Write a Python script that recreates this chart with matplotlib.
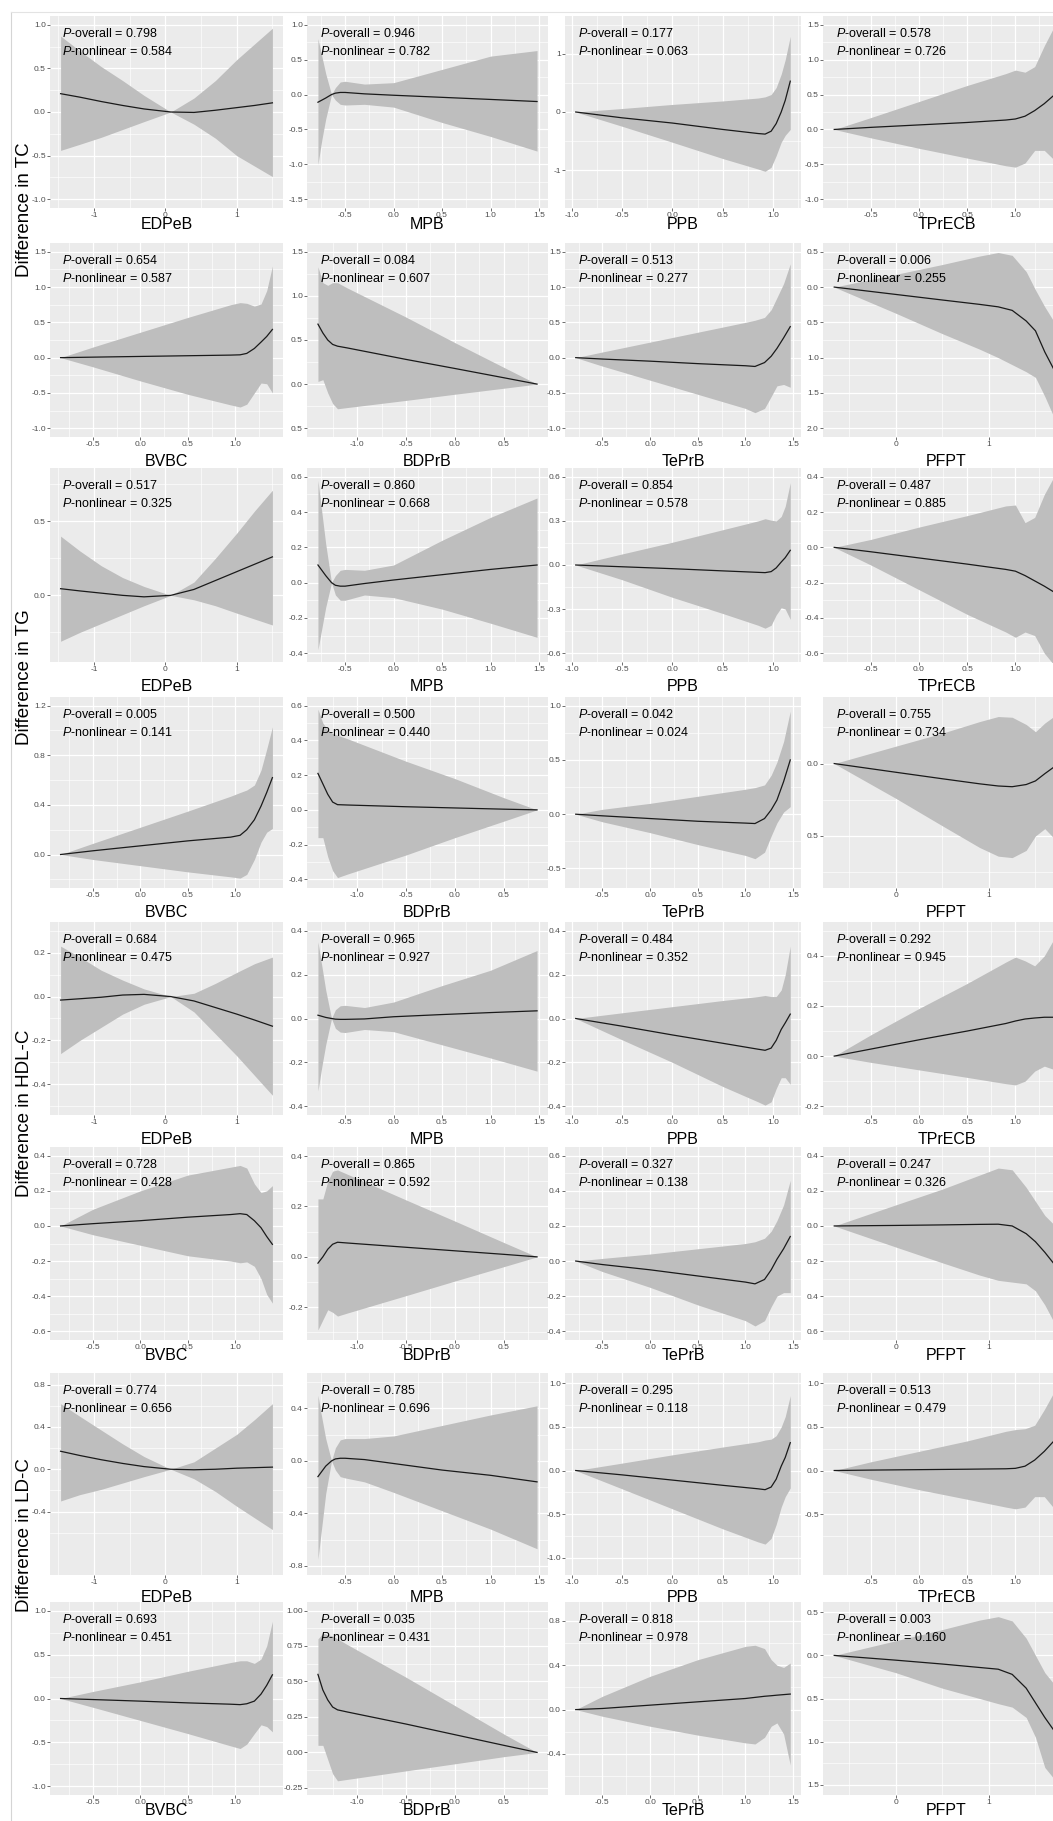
import numpy as np
import matplotlib.pyplot as plt
from matplotlib.lines import Line2D

plt.rcParams['font.family'] = ['Liberation Sans', 'DejaVu Sans']
plt.rcParams['mathtext.fontset'] = 'custom'
plt.rcParams['mathtext.it'] = 'Liberation Sans:italic'
plt.rcParams['mathtext.rm'] = 'Liberation Sans'

# exposure values (same for every lipid outcome)
edpeb_x = [-1.47, -1.2, -0.9, -0.6, -0.3, 0.075, 0.4, 0.7, 1.0, 1.25, 1.5]
mpb_x = [-0.78, -0.74, -0.70, -0.64, -0.60, -0.55, -0.5, -0.3, 0.0, 0.5, 1.0, 1.48]
ppb_x = [-0.96, -0.5, 0.0, 0.5, 0.85, 0.92, 0.98, 1.03, 1.08, 1.12, 1.17]
tprecb_x = [-0.88, -0.5, 0.0, 0.5, 0.9, 1.0, 1.1, 1.2, 1.3, 1.45]
bvbc_x = [-0.84, -0.5, 0.0, 0.5, 0.95, 1.05, 1.12, 1.2, 1.27, 1.33, 1.39]
bdprb_x = [-1.4, -1.35, -1.3, -1.25, -1.2, -1.1, -0.5, 0.0, 0.5, 0.84]
teprb_x = [-0.78, -0.5, 0.0, 0.5, 1.0, 1.1, 1.2, 1.27, 1.33, 1.4, 1.47]
pfpt_x = [-0.66, 0.0, 0.5, 0.9, 1.1, 1.25, 1.4, 1.5, 1.6, 1.75]

set_a = ["EDPeB", "MPB", "PPB", "TPrECB"]
set_b = ["BVBC", "BDPrB", "TePrB", "PFPT"]
x_vals = {"EDPeB": edpeb_x, "MPB": mpb_x, "PPB": ppb_x, "TPrECB": tprecb_x,
          "BVBC": bvbc_x, "BDPrB": bdprb_x, "TePrB": teprb_x, "PFPT": pfpt_x}
x_ticks = {"EDPeB": [-1, 0, 1], "MPB": [-0.5, 0.0, 0.5, 1.0, 1.5],
           "PPB": [-1.0, -0.5, 0.0, 0.5, 1.0], "TPrECB": [-0.5, 0.0, 0.5, 1.0],
           "BVBC": [-0.5, 0.0, 0.5, 1.0], "BDPrB": [-1.0, -0.5, 0.0, 0.5],
           "TePrB": [-0.5, 0.0, 0.5, 1.0, 1.5], "PFPT": [0, 1]}

outcomes = ["TC", "TG", "HDL-C", "LD-C"]

# ---------- TC ----------
tc_a_est = [[0.21, 0.17, 0.12, 0.075, 0.035, 0, -0.005, 0.02, 0.05, 0.075, 0.105],
            [-0.11, -0.08, -0.05, 0.0, 0.02, 0.03, 0.03, 0.01, -0.01, -0.04, -0.07, -0.1],
            [0, -0.1, -0.19, -0.3, -0.37, -0.38, -0.33, -0.2, 0.0, 0.2, 0.53],
            [0, 0.03, 0.065, 0.1, 0.135, 0.15, 0.19, 0.27, 0.37, 0.55]]
tc_a_lo = [[-0.44, -0.37, -0.29, -0.2, -0.11, 0, -0.14, -0.3, -0.5, -0.62, -0.74],
           [-1.0, -0.65, -0.35, 0.0, -0.08, -0.14, -0.15, -0.14, -0.18, -0.4, -0.6, -0.81],
           [0, -0.245, -0.52, -0.8, -0.98, -1.02, -0.95, -0.75, -0.52, -0.4, -0.3],
           [0, -0.12, -0.27, -0.41, -0.52, -0.54, -0.48, -0.3, -0.3, -0.5]]
tc_a_hi = [[0.87, 0.70, 0.52, 0.36, 0.19, 0, 0.16, 0.36, 0.6, 0.78, 0.96],
           [0.8, 0.55, 0.3, 0.0, 0.1, 0.18, 0.19, 0.15, 0.17, 0.36, 0.55, 0.63],
           [0, 0.06, 0.13, 0.19, 0.24, 0.26, 0.3, 0.42, 0.65, 0.9, 1.3],
           [0, 0.17, 0.4, 0.63, 0.8, 0.85, 0.82, 0.9, 1.2, 1.6]]
tc_b_est = [[0, 0.007, 0.017, 0.027, 0.036, 0.04, 0.06, 0.13, 0.22, 0.3, 0.4],
            [0.68, 0.58, 0.5, 0.45, 0.43, 0.41, 0.28, 0.177, 0.072, 0.0],
            [0, -0.02, -0.05, -0.085, -0.115, -0.125, -0.07, 0.02, 0.13, 0.28, 0.44],
            [0, -0.104, -0.183, -0.245, -0.28, -0.33, -0.48, -0.62, -0.92, -1.3]]
tc_b_lo = [[0, -0.13, -0.33, -0.52, -0.67, -0.7, -0.66, -0.5, -0.36, -0.37, -0.5],
           [0.03, 0.05, -0.1, -0.22, -0.28, -0.266, -0.185, -0.115, -0.047, 0.0],
           [0, -0.12, -0.32, -0.52, -0.72, -0.78, -0.72, -0.55, -0.4, -0.38, -0.42],
           [0, -0.37, -0.66, -0.88, -1.0, -1.1, -1.2, -1.28, -1.55, -2.0]]
tc_b_hi = [[0, 0.15, 0.36, 0.57, 0.75, 0.78, 0.77, 0.73, 0.76, 0.95, 1.3],
           [1.33, 1.15, 1.12, 1.15, 1.15, 1.09, 0.76, 0.47, 0.19, 0.0],
           [0, 0.08, 0.22, 0.36, 0.5, 0.53, 0.57, 0.68, 0.85, 1.05, 1.33],
           [0, 0.18, 0.32, 0.44, 0.49, 0.45, 0.22, -0.04, -0.28, -0.6]]
tc_a_p = [("0.798", "0.584"), ("0.946", "0.782"), ("0.177", "0.063"), ("0.578", "0.726")]
tc_b_p = [("0.654", "0.587"), ("0.084", "0.607"), ("0.513", "0.277"), ("0.006", "0.255")]
tc_a_ylim = [(-1.1, 1.1), (-1.625, 1.125), (-1.65, 1.65), (-1.125, 1.625)]
tc_b_ylim = [(-1.125, 1.625), (-0.6, 1.6), (-1.125, 1.625), (-2.125, 0.625)]
tc_a_yticks = [[-1, -0.5, 0, 0.5, 1], [-1.5, -1, -0.5, 0, 0.5, 1], [-1, 0, 1],
               [-1, -0.5, 0, 0.5, 1, 1.5]]
tc_b_yticks = [[-1, -0.5, 0, 0.5, 1, 1.5], [-0.5, 0, 0.5, 1, 1.5],
               [-1, -0.5, 0, 0.5, 1, 1.5], [-2, -1.5, -1, -0.5, 0, 0.5]]

# ---------- TG ----------
tg_a_est = [[0.045, 0.03, 0.015, 0.0, -0.01, 0, 0.04, 0.1, 0.16, 0.21, 0.26],
            [0.1, 0.07, 0.04, 0.0, -0.015, -0.02, -0.02, -0.005, 0.015, 0.045, 0.075, 0.1],
            [0, -0.012, -0.025, -0.04, -0.05, -0.052, -0.045, -0.02, 0.02, 0.05, 0.1],
            [0, -0.025, -0.06, -0.095, -0.125, -0.135, -0.16, -0.19, -0.22, -0.27]]
tg_a_lo = [[-0.31, -0.25, -0.19, -0.13, -0.07, 0, -0.03, -0.07, -0.12, -0.16, -0.2],
           [-0.38, -0.26, -0.14, 0.0, -0.07, -0.1, -0.1, -0.07, -0.085, -0.15, -0.23, -0.31],
           [0, -0.1, -0.22, -0.33, -0.41, -0.43, -0.41, -0.34, -0.29, -0.3, -0.37],
           [0, -0.1, -0.24, -0.38, -0.48, -0.51, -0.48, -0.5, -0.6, -0.7]]
tg_a_hi = [[0.4, 0.3, 0.2, 0.12, 0.06, 0, 0.09, 0.25, 0.42, 0.57, 0.71],
           [0.58, 0.4, 0.22, 0.0, 0.04, 0.07, 0.075, 0.07, 0.1, 0.24, 0.37, 0.48],
           [0, 0.075, 0.155, 0.24, 0.3, 0.315, 0.305, 0.3, 0.33, 0.4, 0.56],
           [0, 0.045, 0.115, 0.18, 0.235, 0.24, 0.14, 0.17, 0.3, 0.45]]
tg_b_est = [[0, 0.03, 0.07, 0.11, 0.14, 0.155, 0.2, 0.28, 0.39, 0.5, 0.62],
            [0.21, 0.15, 0.09, 0.045, 0.03, 0.028, 0.018, 0.011, 0.004, 0.0],
            [0, -0.015, -0.04, -0.065, -0.082, -0.086, -0.04, 0.04, 0.13, 0.3, 0.5],
            [0, -0.06, -0.105, -0.14, -0.155, -0.16, -0.145, -0.12, -0.07, 0.0]]
tg_b_lo = [[0, -0.04, -0.09, -0.14, -0.18, -0.19, -0.16, -0.04, 0.1, 0.18, 0.21],
           [-0.16, -0.16, -0.27, -0.35, -0.39, -0.37, -0.26, -0.16, -0.065, 0.0],
           [0, -0.07, -0.17, -0.28, -0.38, -0.41, -0.35, -0.2, -0.08, 0.02, 0.07],
           [0, -0.24, -0.43, -0.58, -0.64, -0.65, -0.6, -0.5, -0.45, -0.55]]
tg_b_hi = [[0, 0.09, 0.22, 0.35, 0.47, 0.5, 0.52, 0.56, 0.68, 0.85, 1.03],
           [0.58, 0.5, 0.46, 0.44, 0.43, 0.41, 0.28, 0.18, 0.07, 0.0],
           [0, 0.045, 0.1, 0.165, 0.23, 0.245, 0.27, 0.36, 0.48, 0.67, 0.95],
           [0, 0.12, 0.21, 0.29, 0.325, 0.32, 0.27, 0.22, 0.28, 0.35]]
tg_a_p = [("0.517", "0.325"), ("0.860", "0.668"), ("0.854", "0.578"), ("0.487", "0.885")]
tg_b_p = [("0.005", "0.141"), ("0.500", "0.440"), ("0.042", "0.024"), ("0.755", "0.734")]
tg_a_ylim = [(-0.45, 0.86), (-0.45, 0.65), (-0.66, 0.66), (-0.65, 0.45)]
tg_b_ylim = [(-0.27, 1.27), (-0.45, 0.65), (-0.68, 1.08), (-0.86, 0.46)]
tg_a_yticks = [[0, 0.5], [-0.4, -0.2, 0, 0.2, 0.4, 0.6], [-0.6, -0.3, 0, 0.3, 0.6],
               [-0.6, -0.4, -0.2, 0, 0.2, 0.4]]
tg_b_yticks = [[0, 0.4, 0.8, 1.2], [-0.4, -0.2, 0, 0.2, 0.4, 0.6], [-0.5, 0, 0.5, 1.0],
               [-0.5, 0.0]]

# ---------- HDL-C ----------
hdl_a_est = [[-0.016, -0.01, -0.003, 0.007, 0.01, 0, -0.02, -0.05, -0.08, -0.107, -0.135],
             [0.015, 0.01, 0.005, 0.0, -0.003, -0.004, -0.004, -0.002, 0.008, 0.018, 0.027, 0.035],
             [0, -0.035, -0.075, -0.113, -0.14, -0.145, -0.135, -0.1, -0.05, -0.02, 0.02],
             [0, 0.028, 0.065, 0.1, 0.13, 0.14, 0.148, 0.152, 0.155, 0.155]]
hdl_a_lo = [[-0.26, -0.2, -0.14, -0.08, -0.035, 0, -0.07, -0.17, -0.27, -0.36, -0.45],
            [-0.33, -0.22, -0.12, 0.0, -0.045, -0.062, -0.064, -0.05, -0.06, -0.12, -0.18, -0.24],
            [0, -0.097, -0.2, -0.31, -0.38, -0.395, -0.38, -0.32, -0.27, -0.27, -0.3],
            [0, -0.025, -0.055, -0.085, -0.11, -0.115, -0.1, -0.06, -0.04, -0.06]]
hdl_a_hi = [[0.23, 0.18, 0.12, 0.075, 0.035, 0, 0.015, 0.06, 0.11, 0.15, 0.18],
            [0.35, 0.24, 0.13, 0.0, 0.04, 0.058, 0.06, 0.05, 0.075, 0.15, 0.22, 0.31],
            [0, 0.026, 0.054, 0.082, 0.1, 0.105, 0.1, 0.1, 0.13, 0.2, 0.33],
            [0, 0.085, 0.19, 0.29, 0.375, 0.395, 0.38, 0.36, 0.4, 0.5]]
hdl_b_est = [[0, 0.013, 0.03, 0.05, 0.065, 0.07, 0.065, 0.03, -0.01, -0.06, -0.105],
             [-0.025, 0.0, 0.03, 0.05, 0.058, 0.055, 0.038, 0.024, 0.01, 0.0],
             [0, -0.02, -0.05, -0.085, -0.12, -0.13, -0.105, -0.05, 0.01, 0.07, 0.14],
             [0, 0.003, 0.006, 0.009, 0.01, 0.0, -0.044, -0.09, -0.15, -0.25]]
hdl_b_lo = [[0, -0.05, -0.11, -0.17, -0.2, -0.21, -0.205, -0.23, -0.3, -0.39, -0.44],
            [-0.29, -0.25, -0.21, -0.22, -0.235, -0.223, -0.154, -0.096, -0.039, 0.0],
            [0, -0.06, -0.15, -0.25, -0.34, -0.37, -0.34, -0.26, -0.2, -0.18, -0.18],
            [0, -0.12, -0.21, -0.28, -0.31, -0.32, -0.33, -0.37, -0.45, -0.6]]
hdl_b_hi = [[0, 0.095, 0.2, 0.29, 0.335, 0.345, 0.33, 0.24, 0.19, 0.2, 0.23],
            [0.23, 0.23, 0.3, 0.34, 0.345, 0.328, 0.226, 0.142, 0.057, 0.0],
            [0, 0.015, 0.04, 0.07, 0.1, 0.11, 0.13, 0.17, 0.23, 0.32, 0.46],
            [0, 0.12, 0.21, 0.29, 0.33, 0.32, 0.22, 0.14, 0.06, -0.02]]
hdl_a_p = [("0.684", "0.475"), ("0.965", "0.927"), ("0.484", "0.352"), ("0.292", "0.945")]
hdl_b_p = [("0.728", "0.428"), ("0.865", "0.592"), ("0.327", "0.138"), ("0.247", "0.326")]
hdl_a_ylim = [(-0.54, 0.34), (-0.44, 0.44), (-0.44, 0.44), (-0.235, 0.535)]
hdl_b_ylim = [(-0.65, 0.45), (-0.33, 0.436), (-0.45, 0.65), (-0.65, 0.45)]
hdl_a_yticks = [[-0.4, -0.2, 0, 0.2], [-0.4, -0.2, 0, 0.2, 0.4], [-0.4, -0.2, 0, 0.2, 0.4],
                [-0.2, 0, 0.2, 0.4]]
hdl_b_yticks = [[-0.6, -0.4, -0.2, 0, 0.2, 0.4], [-0.2, 0, 0.2, 0.4],
                [-0.4, -0.2, 0, 0.2, 0.4, 0.6], [-0.6, -0.4, -0.2, 0, 0.2, 0.4]]

# ---------- LD-C ----------
ldc_a_est = [[0.17, 0.13, 0.09, 0.055, 0.025, 0, -0.005, 0.0, 0.01, 0.015, 0.02],
             [-0.12, -0.08, -0.04, 0.0, 0.015, 0.02, 0.02, 0.01, -0.02, -0.07, -0.11, -0.16],
             [0, -0.05, -0.11, -0.17, -0.21, -0.22, -0.19, -0.1, 0.05, 0.15, 0.32],
             [0, 0.005, 0.01, 0.015, 0.02, 0.025, 0.05, 0.12, 0.22, 0.4]]
ldc_a_lo = [[-0.3, -0.24, -0.19, -0.13, -0.07, 0, -0.09, -0.21, -0.35, -0.46, -0.57],
            [-0.75, -0.5, -0.25, 0.0, -0.07, -0.12, -0.13, -0.16, -0.24, -0.38, -0.52, -0.67],
            [0, -0.21, -0.44, -0.67, -0.82, -0.845, -0.78, -0.62, -0.42, -0.3, -0.2],
            [0, -0.1, -0.22, -0.33, -0.42, -0.44, -0.42, -0.3, -0.3, -0.5]]
ldc_a_hi = [[0.62, 0.5, 0.37, 0.24, 0.12, 0, 0.07, 0.2, 0.33, 0.47, 0.62],
            [0.5, 0.33, 0.17, 0.0, 0.1, 0.16, 0.17, 0.17, 0.19, 0.27, 0.35, 0.42],
            [0, 0.085, 0.18, 0.27, 0.33, 0.35, 0.36, 0.4, 0.5, 0.62, 0.86],
            [0, 0.1, 0.22, 0.34, 0.45, 0.47, 0.48, 0.52, 0.7, 1.0]]
ldc_b_est = [[0, -0.012, -0.03, -0.05, -0.065, -0.07, -0.06, -0.03, 0.05, 0.15, 0.27],
             [0.55, 0.44, 0.37, 0.32, 0.3, 0.285, 0.2, 0.125, 0.05, 0.0],
             [0, 0.01, 0.04, 0.07, 0.1, 0.11, 0.12, 0.125, 0.13, 0.135, 0.14],
             [0, -0.055, -0.1, -0.14, -0.16, -0.22, -0.38, -0.55, -0.72, -0.95]]
ldc_b_lo = [[0, -0.1, -0.25, -0.4, -0.54, -0.57, -0.52, -0.4, -0.3, -0.32, -0.38],
            [0.05, 0.05, -0.05, -0.15, -0.2, -0.19, -0.13, -0.08, -0.03, 0.0],
            [0, -0.06, -0.15, -0.23, -0.3, -0.31, -0.25, -0.15, -0.12, -0.22, -0.5],
            [0, -0.2, -0.38, -0.5, -0.56, -0.6, -0.72, -0.95, -1.3, -1.5]]
ldc_b_hi = [[0, 0.08, 0.19, 0.31, 0.41, 0.43, 0.43, 0.4, 0.45, 0.6, 0.88],
            [0.8, 0.84, 0.83, 0.82, 0.8, 0.76, 0.53, 0.33, 0.13, 0.0],
            [0, 0.12, 0.3, 0.45, 0.57, 0.58, 0.55, 0.45, 0.4, 0.38, 0.42],
            [0, 0.17, 0.3, 0.41, 0.45, 0.4, 0.2, 0.0, -0.2, -0.4]]
ldc_a_p = [("0.774", "0.656"), ("0.785", "0.696"), ("0.295", "0.118"), ("0.513", "0.479")]
ldc_b_p = [("0.693", "0.451"), ("0.035", "0.431"), ("0.818", "0.978"), ("0.003", "0.160")]
ldc_a_ylim = [(-1.0, 0.91), (-0.87, 0.67), (-1.2, 1.12), (-1.2, 1.12)]
ldc_b_ylim = [(-1.1, 1.1), (-0.3, 1.06), (-0.77, 0.97), (-1.62, 0.62)]
ldc_a_yticks = [[-0.4, 0, 0.4, 0.8], [-0.8, -0.4, 0, 0.4], [-1, -0.5, 0, 0.5, 1],
                [-0.5, 0, 0.5, 1]]
ldc_b_yticks = [[-1, -0.5, 0, 0.5, 1], [-0.25, 0, 0.25, 0.5, 0.75, 1],
                [-0.4, 0, 0.4, 0.8], [-1.5, -1, -0.5, 0, 0.5]]

rows = [
    (set_a, tc_a_est, tc_a_lo, tc_a_hi, tc_a_p, tc_a_ylim, tc_a_yticks),
    (set_b, tc_b_est, tc_b_lo, tc_b_hi, tc_b_p, tc_b_ylim, tc_b_yticks),
    (set_a, tg_a_est, tg_a_lo, tg_a_hi, tg_a_p, tg_a_ylim, tg_a_yticks),
    (set_b, tg_b_est, tg_b_lo, tg_b_hi, tg_b_p, tg_b_ylim, tg_b_yticks),
    (set_a, hdl_a_est, hdl_a_lo, hdl_a_hi, hdl_a_p, hdl_a_ylim, hdl_a_yticks),
    (set_b, hdl_b_est, hdl_b_lo, hdl_b_hi, hdl_b_p, hdl_b_ylim, hdl_b_yticks),
    (set_a, ldc_a_est, ldc_a_lo, ldc_a_hi, ldc_a_p, ldc_a_ylim, ldc_a_yticks),
    (set_b, ldc_b_est, ldc_b_lo, ldc_b_hi, ldc_b_p, ldc_b_ylim, ldc_b_yticks),
]
# panels whose y labels lost their minus sign in the original
no_minus = {(1, 1), (1, 3), (3, 3), (5, 3), (7, 3)}

W, H = 1053, 1821
tops = [16, 243, 468, 697, 922, 1147, 1373, 1602]
bots = [208, 437, 662, 888, 1115, 1340, 1575, 1795]
lefts = [50, 307, 565, 823]
rights = [283, 548, 801, 1070]
xlab_pad = [-1.5, 4.5, 4.0, 4.0, 4.0, -2.5, 2.5, -2.5]


def fmt(vals, drop_minus=False):
    for d in range(3):
        if all(abs(round(v, d) - v) < 1e-9 for v in vals):
            break
    out = []
    for v in vals:
        s = f"{abs(v) if drop_minus else v:.{d}f}"
        if s.startswith('-') and float(s) == 0:
            s = s[1:]
        out.append(s)
    return out


def minors(ticks, lim):
    step = ticks[1] - ticks[0]
    m = [ticks[0] - step / 2] + [t + step / 2 for t in ticks]
    return [v for v in m if lim[0] <= v <= lim[1]]


fig = plt.figure(figsize=(W / 100, H / 100), dpi=100)

for r, (names, est, lo, hi, pv, ylims, yticks) in enumerate(rows):
    for c in range(4):
        name = names[c]
        x = x_vals[name]
        ax = fig.add_axes([lefts[c] / W, 1 - bots[r] / H,
                           (rights[c] - lefts[c]) / W, (bots[r] - tops[r]) / H])
        ax.set_facecolor('#EBEBEB')
        ax.set_axisbelow(True)
        ax.fill_between(x, lo[c], hi[c], color='#BEBEBE', lw=0, zorder=2)
        ax.plot(x, est[c], color='#1A1A1A', lw=0.9, zorder=3)

        span = x[-1] - x[0]
        xlim = (x[0] - 0.05 * span, x[-1] + 0.05 * span)
        ax.set_xlim(*xlim)
        ax.set_ylim(*ylims[c])

        xt = x_ticks[name]
        ax.set_xticks(xt)
        ax.set_xticklabels(fmt(xt))
        ax.set_xticks(minors(xt, xlim), minor=True)
        yt = yticks[c]
        ax.set_yticks(yt)
        ax.set_yticklabels(fmt(yt, (r, c) in no_minus))
        ax.set_yticks(minors(yt, ylims[c]), minor=True)

        ax.grid(which='major', color='white', lw=0.9)
        ax.grid(which='minor', color='white', lw=0.45)
        for s in ax.spines.values():
            s.set_visible(False)
        ax.tick_params(which='major', direction='out', length=2, width=0.5,
                       color='#333333', labelsize=6, labelcolor='#4D4D4D', pad=1)
        ax.tick_params(which='minor', length=0)
        ax.set_xlabel(name, fontsize=11.5, labelpad=xlab_pad[r])

        ax.annotate(r'$\it{P}$-overall = ' + pv[c][0], xy=(0, 1), xycoords='axes fraction',
                    xytext=(9, -12.5), textcoords='offset points', va='center', fontsize=9)
        ax.annotate(r'$\it{P}$-nonlinear = ' + pv[c][1], xy=(0, 1), xycoords='axes fraction',
                    xytext=(9, -25.5), textcoords='offset points', va='center', fontsize=9)

# outcome labels, one per pair of rows
label_y = [210, 677, 1113, 1535]
for name, yy in zip(outcomes, label_y):
    fig.text(25 / W, 1 - yy / H, "Difference in " + name, rotation=90,
             ha='center', va='center', fontsize=13.5)

fig.add_artist(Line2D([11 / W, 11 / W], [0, 1 - 12 / H], color='#D5D5D5', lw=0.8))
fig.add_artist(Line2D([11 / W, 1], [1 - 12 / H, 1 - 12 / H], color='#E3E3E3', lw=0.8))

fig.savefig('out.png', dpi=100)
